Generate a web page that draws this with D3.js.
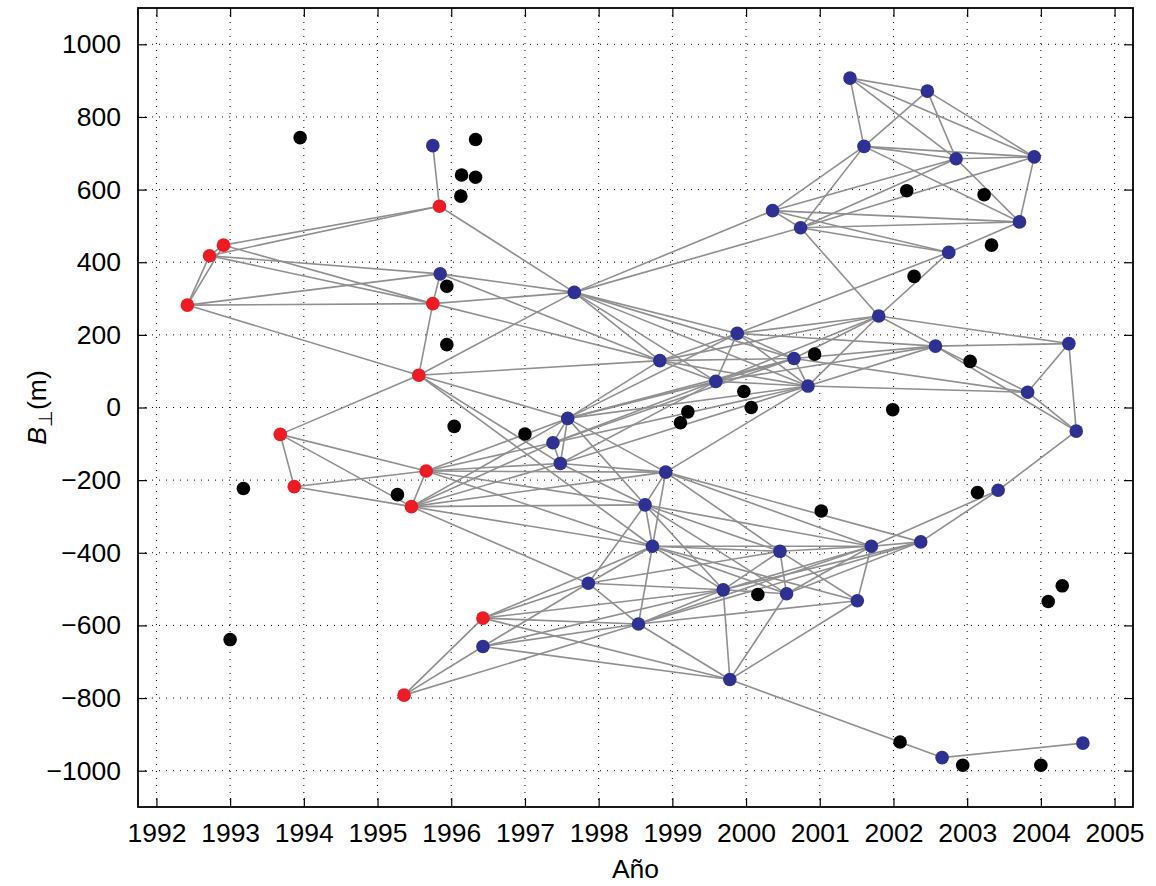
<!DOCTYPE html>
<html>
<head>
<meta charset="utf-8">
<script src="https://cdn.jsdelivr.net/npm/d3@7"></script>
<style>
	body { margin: 0; background: white; }
	svg text { font-family: "Liberation Sans", Arial, sans-serif; fill: black; }
</style>
</head>
<body>
<div id="chart"></div>
<script>

// Acquisitions: [id, year, perpendicular baseline (m)].
let redDates = [
	["r1", 1992.91, 447], ["r2", 1992.72, 418], ["r3", 1992.42, 282],
	["r4", 1995.84, 554], ["r5", 1995.75, 286], ["r6", 1995.56, 89],
	["r7", 1993.68, -74], ["r8", 1993.87, -218], ["r9", 1995.66, -175],
	["r10", 1995.46, -273], ["r11", 1996.43, -580], ["r12", 1995.36, -792]
];

let blueDates = [
	["b1", 1995.75, 721], ["b2", 1995.85, 368], ["b3", 1997.67, 317],
	["b4", 1998.83, 129], ["b5", 1999.59, 72], ["b6", 1997.58, -30],
	["b7", 1997.38, -97], ["b8", 1997.48, -154], ["b9", 1998.91, -178],
	["b10", 1998.63, -268], ["b11", 1998.73, -382], ["b12", 2000.46, -396],
	["b13", 2001.70, -382], ["b14", 2002.37, -370], ["b15", 1997.86, -484],
	["b16", 1999.69, -502], ["b17", 2000.55, -513], ["b18", 2001.51, -532],
	["b19", 1998.54, -596], ["b20", 1996.43, -658], ["b21", 1999.78, -749],
	["b22", 2001.41, 907], ["b23", 2002.46, 871], ["b24", 2001.60, 719],
	["b25", 2002.85, 685], ["b26", 2003.91, 690], ["b27", 2000.36, 542],
	["b28", 2000.74, 495], ["b29", 2003.71, 511], ["b30", 2002.75, 427],
	["b31", 2001.80, 252], ["b32", 1999.88, 204], ["b33", 2002.57, 169],
	["b34", 2004.38, 176], ["b35", 2000.65, 135], ["b36", 2000.84, 59],
	["b37", 2003.82, 42], ["b38", 2004.48, -65], ["b39", 2003.42, -228],
	["b40", 2002.66, -964], ["b41", 2004.57, -924]
];

// Unused acquisitions.
let blackDates = [
	[1993.95, 743], [1996.14, 640], [1996.33, 738], [1996.33, 634], [1996.13, 582],
	[1995.94, 334], [1995.94, 173], [1996.04, -52], [1997.00, -73], [1995.27, -240],
	[1993.18, -223], [1993.00, -639], [1999.11, -42], [1999.21, -12], [1999.97, 44],
	[2000.07, 0], [2000.93, 147], [2001.02, -285], [2000.16, -515], [2001.99, -6],
	[2002.18, 597], [2002.28, 361], [2003.23, 586], [2003.33, 447], [2003.04, 127],
	[2003.14, -234], [2004.10, -534], [2004.29, -491], [2002.09, -921], [2002.94, -985],
	[2004.00, -985]
];

// Interferometric pairs.
let pairs = [
	["r1","r2"],["r1","r3"],["r2","r3"],["r1","r4"],["r2","r4"],["r1","r5"],["r2","r5"],
	["r2","b2"],["r3","b2"],["r3","r5"],["r3","r6"],
	["r4","b1"],["r4","b3"],
	["r5","b2"],["r5","b3"],["r5","b4"],["r5","r6"],
	["r6","b3"],["r6","b4"],["r6","b6"],["r6","r7"],["r6","b8"],["r6","b11"],
	["r7","r8"],["r7","r9"],["r7","r10"],["r8","r9"],["r8","r10"],
	["r9","r10"],["r9","b6"],["r9","b7"],["r9","b8"],["r9","b9"],["r9","b10"],["r9","b11"],
	["r10","b6"],["r10","b7"],["r10","b8"],["r10","b9"],["r10","b10"],["r10","b11"],["r10","b15"],
	["r11","r12"],["r11","b15"],["r11","b11"],["r11","b16"],["r11","b19"],["r11","b21"],
	["r12","b20"],["r12","b19"],
	["b20","b15"],["b20","b19"],["b20","b16"],["b20","b21"],
	["b2","b3"],["b2","b4"],
	["b3","b4"],["b3","b5"],["b3","b35"],["b3","b36"],["b3","b27"],["b3","b28"],["b3","b32"],
	["b4","b5"],["b4","b6"],["b4","b35"],["b4","b36"],["b4","b32"],
	["b5","b6"],["b5","b7"],["b5","b8"],["b5","b32"],["b5","b33"],["b5","b35"],["b5","b36"],
	["b6","b7"],["b6","b8"],["b6","b9"],["b6","b10"],["b6","b35"],["b6","b36"],["b6","b32"],
	["b7","b8"],["b7","b36"],["b7","b35"],
	["b8","b9"],["b8","b36"],["b8","b10"],
	["b9","b10"],["b9","b11"],["b9","b12"],["b9","b13"],["b9","b14"],["b9","b36"],
	["b10","b11"],["b10","b12"],["b10","b13"],["b10","b15"],["b10","b16"],["b10","b17"],
	["b11","b12"],["b11","b13"],["b11","b15"],["b11","b16"],["b11","b17"],["b11","b18"],["b11","b19"],
	["b12","b13"],["b12","b15"],["b12","b16"],["b12","b17"],["b12","b18"],
	["b13","b14"],["b13","b16"],["b13","b17"],["b13","b18"],["b13","b19"],["b13","b39"],
	["b14","b16"],["b14","b17"],["b14","b19"],["b14","b39"],
	["b15","b16"],["b15","b19"],
	["b16","b17"],["b16","b19"],["b16","b21"],
	["b17","b21"],["b18","b19"],["b18","b21"],["b19","b21"],
	["b21","b40"],["b40","b41"],
	["b22","b23"],["b22","b24"],["b22","b25"],["b22","b26"],
	["b23","b24"],["b23","b25"],["b23","b26"],
	["b24","b25"],["b24","b26"],["b24","b27"],["b24","b28"],["b24","b29"],
	["b25","b26"],["b25","b27"],["b25","b28"],["b25","b29"],
	["b26","b28"],["b26","b29"],
	["b27","b28"],["b27","b29"],["b28","b29"],["b27","b30"],["b28","b30"],["b29","b30"],
	["b30","b31"],["b30","b32"],["b28","b31"],
	["b31","b32"],["b31","b33"],["b31","b34"],["b31","b35"],["b31","b36"],["b31","b4"],["b31","b5"],
	["b32","b33"],["b32","b35"],["b32","b36"],
	["b33","b34"],["b33","b35"],["b33","b36"],["b33","b37"],["b33","b38"],
	["b34","b37"],["b34","b38"],
	["b35","b36"],["b35","b37"],["b36","b37"],
	["b37","b38"],["b38","b39"]
];

let yearTicks = d3.range(1992, 2006);
let bperpTicks = d3.range(-1000, 1001, 200);


let width = 1156, height = 886;
let margin = {left: 138, right: 23, top: 8, bottom: 79};
let fontSize = "26.5px";

let svg = d3.select("#chart")
  .append("svg")
	.attr("width", width)
	.attr("height", height);

let x = d3.scaleLinear()
  .domain([1991.75, 2005.25])
  .range([margin.left, width - margin.right]);

let y = d3.scaleLinear()
  .domain([-1100, 1100])
  .range([height - margin.bottom, margin.top]);

let [x0, x1] = x.range();
let [y1, y0] = y.range();


// Dotted grid.
let grid = svg.append("g").attr("class", "grid")
  .attr("stroke", "black")
  .attr("stroke-width", 1)
  .attr("stroke-dasharray", "1,6");

grid.selectAll("line.v")
  .data(yearTicks)
  .enter().append("line")
	.attr("class", "v")
	.attr("x1", d=>x(d)).attr("x2", d=>x(d))
	.attr("y1", y0).attr("y2", y1);

grid.selectAll("line.h")
  .data(bperpTicks)
  .enter().append("line")
	.attr("class", "h")
	.attr("x1", x0).attr("x2", x1)
	.attr("y1", d=>y(d)).attr("y2", d=>y(d));


// Axes with inward ticks on all four sides.
let tickLen = 9;
let fmt = d3.format("d");

svg.append("g")
  .attr("transform", `translate(0,${y1})`)
  .call(d3.axisBottom(x).tickValues(yearTicks).tickFormat(fmt).tickSizeInner(-tickLen).tickSizeOuter(0).tickPadding(16));

svg.append("g")
  .attr("transform", `translate(0,${y0})`)
  .call(d3.axisTop(x).tickValues(yearTicks).tickFormat("").tickSizeInner(-tickLen).tickSizeOuter(0));

svg.append("g")
  .attr("transform", `translate(${x0},0)`)
  .call(d3.axisLeft(y).tickValues(bperpTicks).tickFormat(fmt).tickSizeInner(-tickLen).tickSizeOuter(0).tickPadding(17));

svg.append("g")
  .attr("transform", `translate(${x1},0)`)
  .call(d3.axisRight(y).tickValues(bperpTicks).tickFormat("").tickSizeInner(-tickLen).tickSizeOuter(0));

svg.selectAll(".domain").remove();
svg.selectAll(".tick line").attr("stroke", "black").attr("stroke-width", 1.2);
svg.selectAll(".tick text")
  .style("font-size", fontSize)
  .style("font-family", "'Liberation Sans', Arial, sans-serif")
  .attr("fill", "black");


// Pair network.
let nodes = new Map();
redDates.concat(blueDates).forEach(d=>nodes.set(d[0], d));

svg.append("g").attr("class", "pairs")
  .selectAll("line")
  .data(pairs)
  .enter().append("line")
	.attr("x1", d=>x(nodes.get(d[0])[1]))
	.attr("y1", d=>y(nodes.get(d[0])[2]))
	.attr("x2", d=>x(nodes.get(d[1])[1]))
	.attr("y2", d=>y(nodes.get(d[1])[2]))
	.attr("stroke", "#8f8f8f")
	.attr("stroke-width", 1.6);


// Acquisition markers.
let r = 6.8;
let markers = [
	{data: blackDates.map(d=>[null, d[0], d[1]]), color: "black"},
	{data: redDates, color: "#ed1c24"},
	{data: blueDates, color: "#2e3192"}
];

markers.forEach(m=>{
	svg.append("g")
	  .selectAll("circle")
	  .data(m.data)
	  .enter().append("circle")
		.attr("cx", d=>x(d[1]))
		.attr("cy", d=>y(d[2]))
		.attr("r", r)
		.attr("fill", m.color);
}); // forEach


// Frame.
svg.append("rect")
  .attr("x", x0).attr("y", y0)
  .attr("width", x1 - x0).attr("height", y1 - y0)
  .attr("fill", "none")
  .attr("stroke", "black")
  .attr("stroke-width", 1.8);


// Axis titles.
svg.append("text")
  .attr("x", (x0 + x1)/2)
  .attr("y", 878)
  .attr("text-anchor", "middle")
  .style("font-size", fontSize)
  .text("Año");

let ylab = svg.append("text")
  .attr("transform", `translate(46,${(y0 + y1)/2}) rotate(-90)`)
  .attr("text-anchor", "middle")
  .style("font-size", fontSize);
ylab.append("tspan").style("font-style", "italic").text("B");
ylab.append("tspan").attr("baseline-shift", "-30%").style("font-size", "19px").text("⊥");
ylab.append("tspan").text("(m)");

</script>
</body>
</html>
